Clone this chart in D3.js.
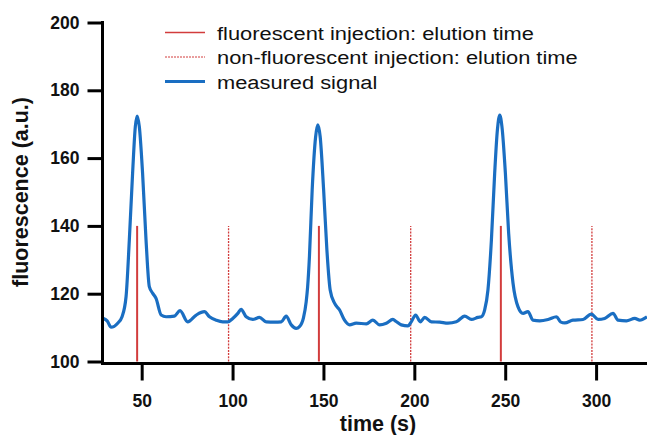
<!doctype html>
<html lang="en">
<head>
    <meta charset="utf-8">
    <title>Fluorescence signal vs time</title>
    <script src="https://cdn.jsdelivr.net/npm/d3@7"></script>
    <style>
        body { margin: 0; background: #fff; }
        svg { display: block; font-family: "Liberation Sans", Arial, sans-serif; }
    </style>
</head>
<body>
    <svg></svg>
    <script>
        var width = 647;
        var height = 435;

        // measured signal
        var times = [29, 31, 33.2, 36.8, 39.2, 41.4, 43.2, 45.0, 46.5, 47.5, 48.7, 50.5, 52.4, 54.2, 56.1, 57.9,
            60.7, 63.4, 68.0, 71.1, 75.3, 80.0, 84.5, 87.3, 91.0, 94.6, 97.4, 100.1, 102.9, 104.7, 107.5,
            111.1, 114.8, 118.5, 123.1, 126.8, 129.5, 132.3, 135.0, 136.8, 139.0, 140.5, 141.3, 142.3, 143.8,
            145.7, 146.9, 148.2, 150.1, 151.9, 153.7, 156.1, 158.9, 161.6, 164.4, 168.0, 173.6, 177.2,
            180.9, 184.6, 188.2, 190.0, 192.8, 196.5, 198.3, 200.7, 203.3, 205.7, 209.4, 214.0, 218.5,
            223.1, 227.7, 231.4, 235.0, 236.9, 238.7, 240.5, 242.4, 244.2, 245.7, 247.0, 248.2, 250.1,
            251.9, 254.3, 257.0, 259.8, 262.5, 265.3, 269.0, 273.6, 278.2, 280.4, 282.8, 287.3, 292.8,
            297.4, 301.1, 304.7, 309.3, 312.1, 316.7, 321.3, 324.0, 328.0];
        var signal = [112.7, 112.0, 110.1, 111.3, 113.2, 119.1, 135.8, 155.5, 169.3, 172.4, 169.3, 155.5, 135.8, 122.1, 120.1, 118.6,
            113.7, 113.2, 113.4, 115.0, 111.7, 113.7, 114.7, 113.2, 112.2, 111.7, 111.7, 112.7, 114.2, 115.4, 113.2,
            112.4, 113.0, 111.7, 111.6, 111.7, 113.4, 110.8, 109.8, 110.3, 112.9, 117.6, 122.0, 131.0, 150.6,
            166.3, 169.8, 166.3, 150.6, 132.9, 121.1, 117.2, 115.2, 112.2, 110.8, 111.3, 111.1, 112.2,
            110.8, 111.3, 112.4, 111.8, 110.8, 110.5, 111.7, 113.7, 111.7, 113.0, 111.7, 111.6, 111.3,
            111.7, 113.4, 112.4, 113.0, 113.2, 115.2, 121.1, 135.8, 155.5, 168.3, 172.7, 169.3, 155.5,
            137.8, 123.1, 116.2, 114.2, 114.7, 112.2, 112.0, 112.4, 113.2, 111.7, 111.4, 112.2, 112.4,
            114.0, 112.4, 112.7, 114.2, 112.2, 112.0, 112.7, 112.2, 113.2];

        // elution time markers
        var fluorTimes = [47.5, 147.5, 247.6];
        var nonFluorTimes = [97.8, 198.0, 297.7];
        var markerTop = 140;

        var xTicks = [50, 100, 150, 200, 250, 300];
        var yTicks = [100, 120, 140, 160, 180, 200];

        var legendLabels = ["fluorescent injection: elution time",
            "non-fluorescent injection: elution time",
            "measured signal"];

        var red = "#d23c3c";
        var blue = "#1a6ec2";

        var xScale = d3.scaleLinear().domain([28.5, 328.5]).range([102.6, 647.9]);
        var yScale = d3.scaleLinear().domain([100, 200]).range([361.5, 22.5]);

        var svg = d3.select("svg").attr("width", width).attr("height", height);

        svg.append("clipPath")
            .attr("id", "plot-area")
            .append("rect")
            .attr("x", 102.6).attr("y", 0)
            .attr("width", width - 102.6).attr("height", 363);

        // solid markers: fluorescent injection
        svg.append("g").selectAll("line")
            .data(fluorTimes)
            .enter()
            .append("line")
            .attr("x1", function (d) { return xScale(d); })
            .attr("x2", function (d) { return xScale(d); })
            .attr("y1", yScale(100))
            .attr("y2", yScale(markerTop))
            .attr("stroke", red)
            .attr("stroke-width", 2);

        // dotted markers: non-fluorescent injection
        svg.append("g").selectAll("line")
            .data(nonFluorTimes)
            .enter()
            .append("line")
            .attr("x1", function (d) { return xScale(d); })
            .attr("x2", function (d) { return xScale(d); })
            .attr("y1", yScale(100))
            .attr("y2", yScale(markerTop))
            .attr("stroke", red)
            .attr("stroke-width", 1.3)
            .attr("stroke-dasharray", "2,1.2");

        // measured signal
        var line = d3.line()
            .x(function (d, i) { return xScale(times[i]); })
            .y(function (d) { return yScale(d); })
            .curve(d3.curveMonotoneX);

        svg.append("path")
            .datum(signal)
            .attr("clip-path", "url(#plot-area)")
            .attr("fill", "none")
            .attr("stroke", blue)
            .attr("stroke-width", 3.2)
            .attr("stroke-linejoin", "round")
            .attr("d", line);

        // axes
        var xAxis = d3.axisBottom(xScale).tickValues(xTicks).tickSize(17).tickSizeOuter(0).tickPadding(14);
        var yAxis = d3.axisLeft(yScale).tickValues(yTicks).tickSize(15).tickSizeOuter(0).tickPadding(8);

        var gx = svg.append("g")
            .attr("class", "axis-x")
            .attr("transform", "translate(0, 363.5)")
            .call(xAxis);
        gx.select(".domain").attr("d", "M101,0H" + width);

        var gy = svg.append("g")
            .attr("class", "axis-y")
            .attr("transform", "translate(102.5, 0)")
            .call(yAxis);
        gy.select(".domain").attr("d", "M0,21V365");

        svg.selectAll(".domain, .tick line")
            .attr("stroke", "#000")
            .attr("stroke-width", 3);
        svg.selectAll(".tick text")
            .attr("fill", "#111")
            .attr("font-size", "17.5px")
            .attr("font-weight", "bold")
            .attr("font-family", "'Liberation Sans', Arial, sans-serif");

        // axis titles
        svg.append("text")
            .attr("x", 378).attr("y", 430.5)
            .attr("text-anchor", "middle")
            .attr("font-size", "21.5px")
            .attr("font-weight", "bold")
            .attr("fill", "#111")
            .text("time (s)");

        svg.append("text")
            .attr("transform", "translate(28, 192) rotate(-90)")
            .attr("text-anchor", "middle")
            .attr("font-size", "21.5px")
            .attr("font-weight", "bold")
            .attr("fill", "#111")
            .text("fluorescence (a.u.)");

        // legend
        var legendStyles = [
            { color: red, width: 1.6, dash: null },
            { color: red, width: 1, dash: "2,1" },
            { color: blue, width: 3, dash: null }
        ];
        var legend = svg.append("g").selectAll("g")
            .data(legendLabels)
            .enter()
            .append("g")
            .attr("transform", function (d, i) { return "translate(165, " + (32.5 + i * 24.5) + ")"; });

        legend.append("line")
            .attr("x1", 0).attr("x2", 40)
            .attr("stroke", function (d, i) { return legendStyles[i].color; })
            .attr("stroke-width", function (d, i) { return legendStyles[i].width; })
            .attr("stroke-dasharray", function (d, i) { return legendStyles[i].dash; });

        legend.append("text")
            .attr("transform", "translate(52, 7) scale(1.15, 1)")
            .attr("font-size", "19px")
            .attr("fill", "#111")
            .text(function (d) { return d; });
    </script>
</body>
</html>
